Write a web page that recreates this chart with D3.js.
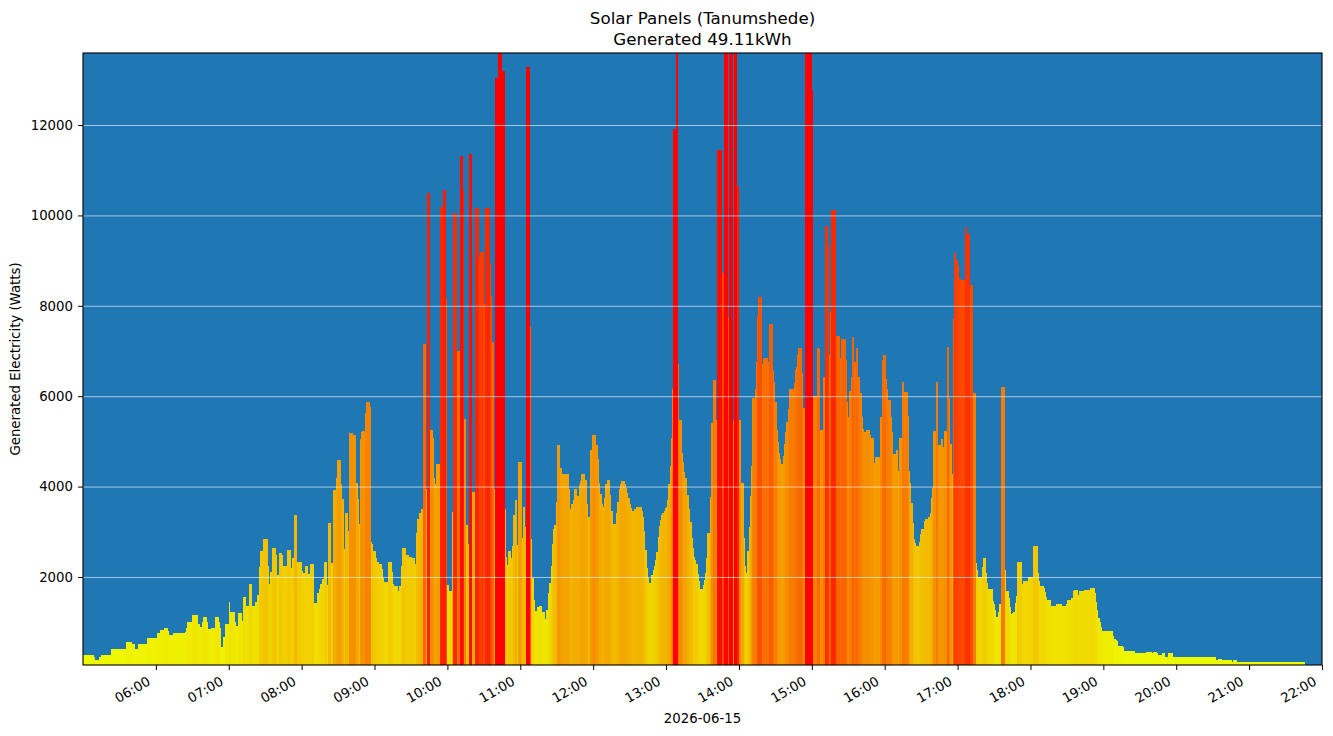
<!DOCTYPE html>
<html>
<head>
<meta charset="utf-8">
<script src="https://cdn.jsdelivr.net/npm/d3@7"></script>
<style>
  html, body { margin: 0; padding: 0; background: #fff; }
  svg text { font-family: "DejaVu Sans", sans-serif; fill: #000; }
</style>
</head>
<body>
<svg id="chart" width="1333" height="736"></svg>
<script>
// day and title
const day = "2026-06-15";
const titleLines = ["Solar Panels (Tanumshede)", "Generated 49.11kWh"];

// step start times (each bar lasts until the next time) and generated watts
const times = [
  "05:00","05:09","05:10","05:13","05:15","05:23","05:26","05:35","05:40","05:43",
  "05:45","05:53","05:57","06:01","06:03","06:07","06:10","06:11","06:14","06:15",
  "06:24","06:25","06:26","06:30","06:35","06:36","06:38","06:39","06:42","06:43",
  "06:45","06:49","06:52","06:53","06:54","06:55","06:57","07:00","07:01","07:05",
  "07:06","07:08","07:11","07:12","07:14","07:17","07:19","07:22","07:23","07:25",
  "07:26","07:28","07:32","07:33","07:34","07:36","07:39","07:40","07:41","07:44",
  "07:45","07:48","07:51","07:52","07:54","07:56","08:00","08:01","08:03","08:05",
  "08:07","08:10","08:13","08:14","08:15","08:17","08:18","08:21","08:22","08:24",
  "08:26","08:28","08:29","08:32","08:33","08:35","08:36","08:38","08:39","08:42",
  "08:45","08:46","08:47","08:48","08:49","08:50","08:52","08:53","08:56","08:57",
  "08:58","08:59","09:01","09:02","09:04","09:06","09:07","09:08","09:11","09:14",
  "09:15","09:16","09:19","09:20","09:22","09:23","09:26","09:28","09:31","09:33",
  "09:34","09:35","09:37","09:38","09:40","09:42","09:43","09:46","09:48","09:49",
  "09:50","09:51","09:54","09:56","09:59","10:00","10:01","10:04","10:05","10:08",
  "10:10","10:13","10:14","10:15","10:17","10:18","10:20","10:23","10:26","10:27",
  "10:30","10:31","10:35","10:36","10:37","10:38","10:39","10:42","10:45","10:47",
  "10:48","10:49","10:50","10:52","10:53","10:54","10:56","10:57","10:58","11:01",
  "11:02","11:04","11:05","11:08","11:09","11:10","11:11","11:12","11:14","11:15",
  "11:18","11:20","11:21","11:23","11:24","11:25","11:26","11:27","11:28","11:29",
  "11:30","11:33","11:34","11:40","11:41","11:42","11:43","11:44","11:47","11:48",
  "11:49","11:50","11:53","11:55","11:56","11:57","11:59","12:02","12:04","12:05",
  "12:06","12:07","12:08","12:09","12:10","12:11","12:14","12:15","12:16","12:19",
  "12:20","12:21","12:22","12:23","12:26","12:27","12:28","12:29","12:30","12:31",
  "12:32","12:34","12:35","12:40","12:41","12:42","12:43","12:44","12:45","12:46",
  "12:48","12:49","12:50","12:51","12:52","12:53","12:54","12:55","12:56","12:57",
  "12:58","12:59","13:00","13:01","13:02","13:03","13:04","13:05","13:06","13:08",
  "13:10","13:11","13:13","13:14","13:15","13:16","13:17","13:19","13:20","13:21",
  "13:22","13:23","13:24","13:25","13:26","13:27","13:28","13:30","13:31","13:32",
  "13:33","13:34","13:36","13:37","13:39","13:41","13:42","13:46","13:48","13:51",
  "13:52","13:55","13:56","13:58","14:00","14:02","14:04","14:05","14:06","14:07",
  "14:08","14:09","14:10","14:11","14:13","14:14","14:15","14:16","14:19","14:20",
  "14:24","14:25","14:28","14:29","14:30","14:31","14:32","14:33","14:34","14:35",
  "14:36","14:37","14:38","14:39","14:40","14:41","14:45","14:46","14:47","14:48",
  "14:49","14:52","14:53","14:54","15:00","15:01","15:04","15:06","15:07","15:09",
  "15:11","15:13","15:14","15:15","15:16","15:20","15:23","15:24","15:28","15:29",
  "15:30","15:31","15:32","15:33","15:35","15:36","15:38","15:40","15:41","15:42",
  "15:43","15:45","15:48","15:49","15:51","15:52","15:56","15:58","15:59","16:01",
  "16:02","16:03","16:05","16:06","16:07","16:09","16:11","16:12","16:14","16:16",
  "16:19","16:20","16:21","16:22","16:23","16:24","16:25","16:26","16:28","16:29",
  "16:30","16:32","16:33","16:34","16:36","16:37","16:38","16:39","16:40","16:42",
  "16:44","16:46","16:48","16:49","16:51","16:53","16:54","16:55","16:56","16:57",
  "16:59","17:00","17:01","17:02","17:03","17:06","17:08","17:10","17:13","17:15",
  "17:16","17:17","17:20","17:21","17:23","17:24","17:25","17:29","17:30","17:31",
  "17:32","17:33","17:34","17:36","17:39","17:40","17:42","17:43","17:44","17:45",
  "17:46","17:47","17:48","17:49","17:53","17:54","17:58","18:02","18:06","18:07",
  "18:08","18:11","18:12","18:13","18:14","18:17","18:21","18:26","18:29","18:30",
  "18:33","18:35","18:36","18:39","18:40","18:44","18:45","18:49","18:53","18:54",
  "18:55","18:56","18:57","18:58","18:59","19:08","19:09","19:10","19:11","19:12",
  "19:16","19:17","19:26","19:35","19:40","19:41","19:44","19:45","19:48","19:51",
  "19:53","19:57","20:33","20:34","20:38","20:46","20:47","20:50"
];
const endTime = "21:46";

const watts = [
  280,240,170,240,280,395,410,570,525,410,
  525,655,640,770,820,880,810,715,750,770,
  785,880,1010,1150,960,890,1010,1120,1010,845,
  880,1120,1010,880,455,665,970,1435,1235,1010,
  905,1195,1020,1565,1365,1850,1365,1455,1590,2210,
  2580,2840,2235,1835,2120,2650,2495,2035,2530,2475,
  2235,2600,2190,2410,3380,2330,2140,2080,2250,2060,
  2295,1415,1655,1730,1835,1950,2340,1820,3205,2320,
  3935,4195,4580,4055,3735,2625,3405,3015,5195,5135,
  4090,3735,3165,5055,5205,5240,5620,5880,5760,2780,
  2720,2580,2410,2340,2280,2180,1975,1880,2340,2120,
  1845,1790,1690,1800,2250,2650,2475,2450,2410,2280,
  2970,3275,3405,3510,7155,3955,10505,5255,5080,4185,
  4055,4510,10195,10565,8155,1820,1690,3430,10045,7010,
  11325,10565,5490,3145,2730,11365,3890,10175,9090,9195,
  8050,10175,8955,8225,7200,3945,13040,13600,13190,3495,
  2450,2260,2565,2425,2685,3365,3695,2710,4535,2860,
  3555,3100,13275,7530,2840,1975,1495,1255,1340,1365,
  1235,1080,1280,1655,1870,2250,2730,3060,3145,3665,
  4910,4420,4275,3945,3495,3625,3700,3945,3800,4030,
  4120,4275,4145,3625,3335,4820,5140,4925,4620,4090,
  3825,3605,3555,3755,4050,4145,3815,3450,3180,3425,
  3665,3945,4055,4125,4055,3970,3860,3755,3605,3535,
  3470,3495,3555,3450,3335,3015,2600,2200,1975,1870,
  2050,2165,2235,2380,2555,2885,3120,3250,3365,3425,
  3470,3520,3555,3710,4055,4450,5080,6165,11910,13600,
  6720,5480,4735,4535,4320,4185,3805,3495,3215,2870,
  2650,2435,2375,2295,2060,1915,1730,1825,1930,2080,
  2425,2970,3780,5400,6350,5480,11450,8720,13600,7720,
  13600,5445,13600,10655,5480,4090,2870,2235,2080,2565,
  3100,3800,4465,5960,6165,6750,7765,8205,6705,6835,
  6750,7605,6565,6315,5865,5255,4985,4750,4605,4490,
  4680,4950,5210,5430,5725,6165,6290,6575,6655,6915,
  7070,6505,5740,13600,12765,6000,7070,7045,5245,6420,
  9760,9350,6915,7870,10130,7340,6835,7260,6790,5865,
  5535,6125,6420,7320,6765,7060,6420,6070,5535,5270,
  5205,5255,5140,5080,4515,4665,5550,6790,6920,6385,
  6165,5925,5535,5205,4710,4820,4335,5080,6315,6095,
  5570,4350,4090,3640,3190,2840,2755,2685,2765,2945,
  3060,3230,3290,3275,3335,3405,3750,3970,5230,6315,
  4925,5055,4880,5230,7095,5950,4940,4275,7705,9160,
  9005,8890,8615,8590,8570,9735,9595,8460,6080,2320,
  2160,2000,2210,2410,2095,1870,1740,1470,1410,1260,
  1105,1235,1410,6200,2150,1695,1540,1340,1175,1210,
  1235,1425,1570,2340,1850,1920,1990,2690,2085,1900,
  1800,1755,1670,1565,1485,1365,1410,1365,1410,1480,
  1540,1695,1720,1600,1690,1715,1720,1765,1635,1455,
  1280,1095,995,890,810,700,635,610,585,475,
  445,370,307,350,307,350,307,265,307,240,
  307,240,170,195,170,125,170,125
];

const xStart = "05:00", xEnd = "22:00";
const hourTicks = ["06:00","07:00","08:00","09:00","10:00","11:00","12:00","13:00",
  "14:00","15:00","16:00","17:00","18:00","19:00","20:00","21:00","22:00"];
const yTicks = [2000, 4000, 6000, 8000, 10000, 12000];
const yMin = 52, yMax = 13594;

const W = 1333, H = 736;
const m = { top: 53, right: 11, bottom: 71, left: 83 };
const iW = W - m.left - m.right;
const iH = H - m.top - m.bottom;

const parse = d3.timeParse("%Y-%m-%d %H:%M");
const at = s => parse(`${day} ${s}`);

const bars = times.map((t, i) => ({
  t0: at(t),
  t1: at(i + 1 < times.length ? times[i + 1] : endTime),
  w: watts[i]
}));

const svg = d3.select("#chart");

// title (two centred lines)
svg.append("g").selectAll("text").data(titleLines).join("text")
  .attr("x", m.left + iW / 2).attr("y", (d, i) => 24 + i * 21)
  .attr("text-anchor", "middle")
  .style("font-size", "16.7px")
  .text(d => d);

const g = svg.append("g").attr("transform", `translate(${m.left},${m.top})`);

const x = d3.scaleTime().domain([at(xStart), at(xEnd)]).range([0, iW]);
const y = d3.scaleLinear().domain([yMin, yMax]).range([iH, 0]);
const colour = d3.scaleLinear().domain([0, 12000]).range(["#eeff00", "#ff0000"]).clamp(true);

svg.append("defs").append("clipPath").attr("id", "plotclip")
  .append("rect").attr("width", iW).attr("height", iH);

// plot background
g.append("rect").attr("width", iW).attr("height", iH).attr("fill", "#1f77b4");

// bars
g.append("g").attr("clip-path", "url(#plotclip)")
  .selectAll("rect").data(bars).join("rect")
  .attr("x", d => x(d.t0))
  .attr("width", d => Math.max(0.5, x(d.t1) - x(d.t0)))
  .attr("y", d => y(d.w))
  .attr("height", d => iH - y(d.w))
  .attr("fill", d => colour(d.w))
  .attr("shape-rendering", "crispEdges");

// grid on top of the bars
g.append("g").selectAll("line").data(yTicks).join("line")
  .attr("x1", 0).attr("x2", iW)
  .attr("y1", d => y(d) + 0.5).attr("y2", d => y(d) + 0.5)
  .attr("stroke", "#ffffff").attr("stroke-opacity", 0.75).attr("stroke-width", 0.8);

// axes
g.append("g")
  .attr("transform", `translate(0,${iH})`)
  .call(d3.axisBottom(x).tickValues(hourTicks.map(at)).tickFormat(d3.timeFormat("%H:%M")).tickSizeOuter(0).tickSize(5))
  .call(ax => {
    ax.select(".domain").remove();
    ax.selectAll(".tick line").attr("stroke", "#000").attr("stroke-width", 1);
    ax.selectAll(".tick text")
      .attr("text-anchor", "end")
      .attr("y", 0).attr("dy", 0)
      .attr("transform", "translate(-5,19) rotate(-30)")
      .style("font-size", "13.3px").style("font-family", "DejaVu Sans, sans-serif");
  });

g.append("g")
  .call(d3.axisLeft(y).tickValues(yTicks).tickFormat(d3.format("d")).tickSizeOuter(0).tickSize(5).tickPadding(5))
  .call(ax => {
    ax.select(".domain").remove();
    ax.selectAll(".tick line").attr("stroke", "#000").attr("stroke-width", 1);
    ax.selectAll(".tick text").style("font-size", "13.3px").style("font-family", "DejaVu Sans, sans-serif");
  });

// frame
g.append("rect").attr("width", iW).attr("height", iH)
  .attr("fill", "none").attr("stroke", "#000").attr("stroke-width", 1.1);

// axis labels
svg.append("text")
  .attr("x", m.left + iW / 2).attr("y", 723)
  .attr("text-anchor", "middle").style("font-size", "13.3px")
  .text(day);

svg.append("text")
  .attr("transform", `translate(20,${m.top + iH / 2}) rotate(-90)`)
  .attr("text-anchor", "middle").style("font-size", "13.3px")
  .text("Generated Electricity (Watts)");
</script>
</body>
</html>
